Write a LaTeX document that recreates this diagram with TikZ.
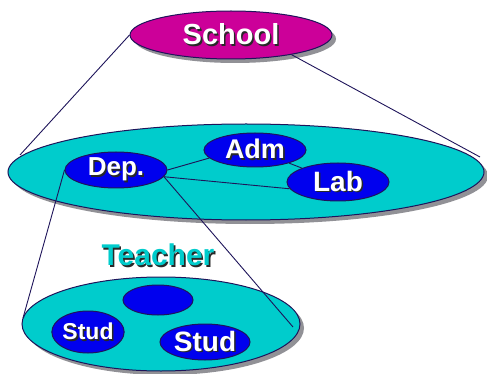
\documentclass[tikz,border=0pt]{standalone}
\usepackage{fontspec}
\setmainfont{Liberation Sans}
\usetikzlibrary{shapes.geometric,shadows}
\definecolor{plum}{RGB}{204,0,153}
\definecolor{aqua}{RGB}{0,204,204}
\definecolor{royal}{RGB}{0,0,238}
\definecolor{rim}{RGB}{30,20,90}
\definecolor{shade}{RGB}{145,145,150}
\definecolor{inkshade}{RGB}{40,40,40}
% text with a small dark offset copy behind it
\newcommand{\shtext}[2]{\leavevmode\rlap{\kern1.6pt\raisebox{-1.6pt}{\color{inkshade}#2}}{\color{#1}#2}}
\begin{document}
\begin{tikzpicture}[x=1pt,y=-1pt,
  blob/.style={ellipse,draw=rim,line width=1pt,inner sep=0pt},
  cast/.style={drop shadow={shadow xshift=4pt,shadow yshift=-4pt,fill=shade,opacity=1}},
  txt/.style={font=\fontsize{#1}{#1}\selectfont\bfseries},
  wire/.style={draw=rim,line width=0.9pt}]
\useasboundingbox (0,0) rectangle (487,374);

% top level
\node[blob,cast,fill=plum,minimum width=202pt,minimum height=48pt,txt=29] (school) at (231,35) {\shtext{white}{School}};

% middle level
\node[blob,cast,fill=aqua,minimum width=476pt,minimum height=96pt] (campus) at (246,172) {};
\coordinate (campL) at (20,155);
\coordinate (campR) at (480,157);

\node[blob,fill=royal,minimum width=102pt,minimum height=36pt,txt=26] (dep) at (116,170) {\shtext{white}{Dep.}};
\node[blob,fill=royal,minimum width=102pt,minimum height=34pt,txt=27] (adm) at (255,150) {\shtext{white}{Adm}};
\node[blob,fill=royal,minimum width=102pt,minimum height=38pt,txt=28] (lab) at (338,182) {\shtext{white}{Lab}};

% bottom level
\node[txt=30] (teacher) at (158,256) {\shtext{aqua}{Teacher}};
\node[blob,cast,fill=aqua,minimum width=278pt,minimum height=94pt] (group) at (161,324) {};
\coordinate (grpL) at (23,318);
\coordinate (grpR) at (293,327);

\node[blob,fill=royal,minimum width=70pt,minimum height=30pt] (seat) at (158,300) {};
\node[blob,fill=royal,minimum width=70pt,minimum height=42pt,txt=23] (studA) at (88,332) {\shtext{white}{Stud}};
\node[blob,fill=royal,minimum width=90pt,minimum height=36pt,txt=28] (studB) at (205,342) {\shtext{white}{Stud}};

% connectors
\draw[wire] (school.west) -- (campL);
\draw[wire] (school.-18) -- (campR);
\draw[wire] (dep.east) -- (adm.190);
\draw[wire] (dep.-8) -- (lab.188);
\draw[wire] (adm) -- (lab);
\draw[wire] (dep.west) -- (grpL);
\draw[wire] (dep.-8) -- (grpR);
\end{tikzpicture}
\end{document}
